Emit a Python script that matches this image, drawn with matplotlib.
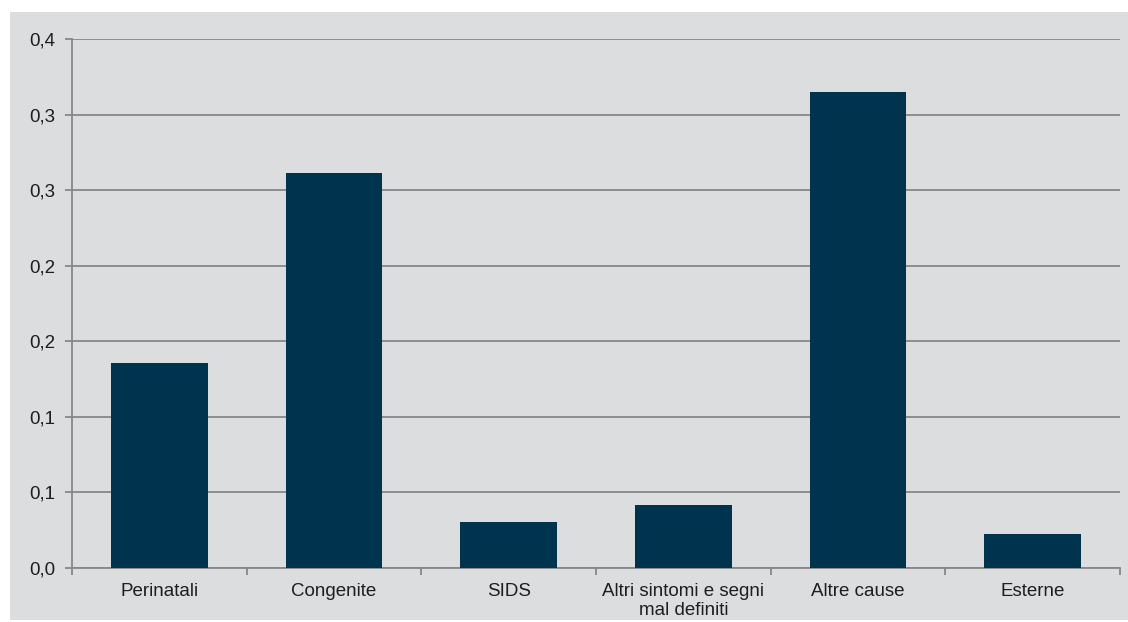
import matplotlib.pyplot as plt
from matplotlib.patches import Rectangle
from matplotlib.ticker import FuncFormatter, MultipleLocator
import math

categorie = ["Perinatali", "Congenite", "SIDS", "Altri sintomi e segni\nmal definiti", "Altre cause", "Esterne"]
valori = [0.1356, 0.2612, 0.0304, 0.0417, 0.3148, 0.0225]

sfondo = "#dcdddf"
colore_barre = "#00334d"
colore_linee = "#878787"

plt.rcParams["font.family"] = ["Liberation Sans", "DejaVu Sans"]

fig = plt.figure(figsize=(11.28, 6.22), dpi=100, facecolor="white")
fig.patches.append(Rectangle((10 / 1128, 0.003), 1 - 10 / 1128, 1 - 12 / 622 - 0.003,
                             transform=fig.transFigure, facecolor=sfondo, edgecolor="none", zorder=-10))
ax = fig.add_axes([72 / 1128, 1 - 568 / 622, (1120 - 72) / 1128, (568 - 39) / 622])
ax.set_facecolor(sfondo)

x = list(range(len(categorie)))
ax.bar(x, valori, width=0.555, color=colore_barre, zorder=3)

ax.set_xlim(-0.5, len(categorie) - 0.5)
ax.set_ylim(0, 0.35)
ax.yaxis.set_major_locator(MultipleLocator(0.05))

def formato(v, pos):
    r = math.floor(v * 10 + 0.5 + 1e-9) / 10
    return f"{r:.1f}".replace(".", ",")

ax.yaxis.set_major_formatter(FuncFormatter(formato))
ax.grid(axis="y", color=colore_linee, linewidth=1.3, zorder=1)

ax.set_xticks(x)
ax.set_xticklabels(categorie, fontsize=13.5, color="#1e1e1e", linespacing=1.15)
ax.set_xticks([i - 0.5 for i in range(len(categorie) + 1)], minor=True)
ax.tick_params(axis="x", which="major", length=0, pad=11)
ax.tick_params(axis="x", which="minor", length=5, color=colore_linee, width=1.3)
ax.tick_params(axis="y", length=5, color=colore_linee, width=1.3, labelsize=13.5, labelcolor="#1e1e1e", pad=7)

for lato in ["top", "right"]:
    ax.spines[lato].set_visible(False)
for lato in ["left", "bottom"]:
    ax.spines[lato].set_color(colore_linee)
    ax.spines[lato].set_linewidth(1.3)

fig.savefig("out.png", dpi=100, facecolor=fig.get_facecolor())
